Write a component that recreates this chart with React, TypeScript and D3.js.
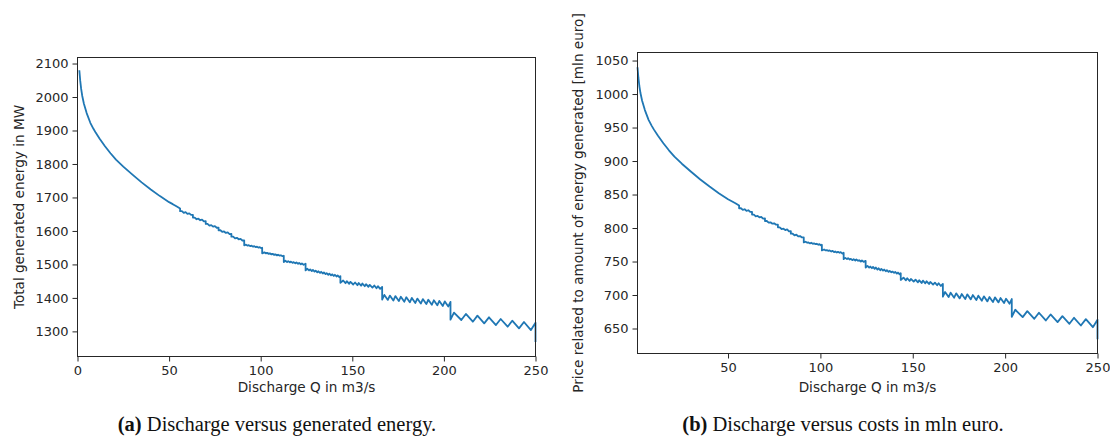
import React, { useEffect, useRef } from "react";
import * as d3 from "d3";

// Discharge Q (m3/s) at each vertex of the curve
const discharge = [
  1, 1.5, 2, 2.6, 3.5, 5, 7, 8.7, 10, 12, 15, 18, 21, 25, 30, 35, 40, 45, 50,
  52, 54, 56, 56,
  57, 58, 59, 60, 61, 62, 63, 63,
  64, 65, 66, 67, 68, 69, 70, 70,
  71, 72, 73, 74, 75, 76, 77, 77,
  78, 79, 80, 81, 82, 83, 84, 84,
  85, 86, 87, 88, 89, 90, 91, 91,
  92, 92.9, 93.5, 94.4, 95, 95.9, 96.5, 97.4, 98, 98.9, 99.5, 100.4, 100.8, 100.8,
  102, 102.9, 103.5, 104.4, 105, 105.9, 106.5, 107.4, 108, 108.9, 109.5, 110.4, 111, 111.9, 112.6, 112.6,
  113.5, 114.4, 115, 115.9, 116.5, 117.4, 118, 118.9, 119.5, 120.4, 121, 121.9, 122.5, 123.4, 124.5, 124.5,
  125.5, 126.4, 127, 127.9, 128.5, 129.4, 130, 130.9, 131.5, 132.4, 133, 133.9, 134.5, 135.4, 136, 136.9,
  137.5, 138.4, 139, 139.9, 140.5, 141.4, 142, 142.9, 143.5, 143.5,
  145, 146.3, 147, 148.3, 149, 150.5, 151.5, 152.8, 153.5, 154.8, 155.5, 156.8, 157.5, 158.8, 159.5, 161,
  162, 163.2, 164, 165.2, 166.3, 166.3,
  167.5, 169.4, 170.5, 172.4, 173.5, 175.4, 176.5, 178.4, 179.5, 181.4, 182.5, 184.4, 185.5, 187.4, 188.5,
  190.4, 191.5, 193.4, 194.5, 196.4, 197.5, 199.4, 200.5, 202.4, 203.6, 203.6,
  205.5, 209.5, 212, 215.8, 218.3, 222, 224.6, 228.4, 231, 234.8, 237.3, 241, 243.7, 247.5, 250, 250,
];

// (a) total generated energy in MW
const energyMW = [
  2080, 2048, 2024, 2003, 1980, 1952, 1923, 1905, 1893, 1876, 1853, 1832, 1813, 1792, 1768, 1745, 1724, 1704, 1686,
  1680, 1673.5, 1667, 1659,
  1659, 1654, 1656, 1651, 1652.5, 1648, 1648, 1640,
  1640, 1635, 1636.5, 1632, 1633.5, 1628.5, 1629, 1621,
  1621, 1616, 1617.5, 1613, 1614.5, 1609.5, 1610, 1602,
  1602, 1597, 1598.5, 1594, 1595.5, 1590.5, 1591, 1583,
  1583, 1578, 1579.5, 1575, 1576.5, 1571.5, 1572, 1557,
  1559, 1556, 1557.5, 1554.5, 1556, 1553, 1554.5, 1551.5, 1553, 1550, 1551.5, 1548.5, 1550, 1533,
  1536, 1533, 1534.5, 1531.5, 1533, 1530, 1531.5, 1528.5, 1530, 1527, 1529, 1526, 1527.5, 1524.5, 1526, 1507,
  1511, 1507, 1510, 1506, 1508.5, 1504.5, 1507, 1503, 1506, 1502, 1504.5, 1500.5, 1503, 1499, 1502, 1482,
  1487, 1482, 1485, 1480, 1483.5, 1478.5, 1481.5, 1476.5, 1479.5, 1474.5, 1478, 1473, 1476, 1471, 1474, 1469,
  1472.5, 1467.5, 1470.5, 1465.5, 1469, 1464, 1467, 1462, 1465, 1445,
  1452, 1444, 1450, 1442, 1448, 1440, 1446, 1438, 1444.5, 1436.5, 1443, 1435, 1441, 1433, 1439, 1431,
  1437, 1429, 1435, 1427, 1433, 1395,
  1409, 1394, 1407, 1392, 1405.5, 1390.5, 1403.5, 1388.5, 1402, 1387, 1400, 1385, 1398, 1383, 1396.5,
  1381.5, 1394.5, 1379.5, 1393, 1378, 1391, 1376, 1389.5, 1374.5, 1388, 1335,
  1356, 1334, 1352, 1329, 1347, 1324, 1342, 1319, 1337, 1314, 1332, 1309, 1328, 1304, 1326, 1268,
];

// (b) price related to amount of energy generated, mln euro
const priceMlnEuro = [
  1040, 1024, 1012, 1001.5, 990, 976, 961.5, 952.5, 946.5, 938, 926.5, 916, 906.5, 896, 884, 872.5, 862, 852, 843,
  840, 837, 833.5, 829.5,
  829.5, 827, 828, 825.5, 826.5, 824, 824, 820,
  820, 817.5, 818, 816, 816.5, 814, 814.5, 810.5,
  810.5, 808, 808.5, 806.5, 807, 805, 805, 801,
  801, 798.5, 799, 797, 798, 795, 795.5, 791.5,
  791.5, 789, 790, 787.5, 788, 786, 786, 778.5,
  779.5, 778, 778.5, 777, 778, 776.5, 777, 776, 776.5, 775, 776, 774, 775, 766.5,
  768, 766.5, 767, 766, 766.5, 765, 766, 764, 765, 763.5, 764.5, 763, 764, 762, 763, 753.5,
  755.5, 753.5, 755, 753, 754, 752, 753.5, 751.5, 753, 751, 752, 750, 751.5, 749.5, 751, 741,
  743.5, 741, 742.5, 740, 742, 739, 741, 738, 740, 737, 739, 736.5, 738, 735.5, 737, 734.5,
  736, 734, 735, 733, 734.5, 732, 733.5, 731, 732.5, 722.5,
  726, 722, 725, 721, 724, 720, 723, 719, 722, 718, 721.5, 717.5, 720.5, 716.5, 719.5, 715.5,
  718.5, 714.5, 717.5, 713.5, 716.5, 697.5,
  704.5, 697, 703.5, 696, 702.5, 695, 701.5, 694, 701, 693.5, 700, 692.5, 699, 691.5, 698,
  690.5, 697, 689.5, 696.5, 689, 695.5, 688, 694.5, 687, 694, 667.5,
  678, 667, 676, 664.5, 673.5, 662, 671, 659.5, 668.5, 657, 666, 654.5, 664, 652, 663, 634,
];

const xTicksA = [0, 50, 100, 150, 200, 250];
const yTicksA = [1300, 1400, 1500, 1600, 1700, 1800, 1900, 2000, 2100];
const xTicksB = [50, 100, 150, 200, 250];
const yTicksB = [650, 700, 750, 800, 850, 900, 950, 1000, 1050];

const FONT = "DejaVu Sans, sans-serif";
const INK = "#262626";

type PanelProps = {
  values: number[];
  xDomain: [number, number];
  yDomain: [number, number];
  xTicks: number[];
  yTicks: number[];
  box: { left: number; right: number; top: number; bottom: number };
  yLabel: string;
  yLabelX: number;
};

const Panel = ({ values, xDomain, yDomain, xTicks, yTicks, box, yLabel, yLabelX }: PanelProps) => {
  const gRef = useRef<SVGGElement>(null);

  useEffect(() => {
    const g = d3.select(gRef.current);
    g.selectAll("*").remove();

    const x = d3.scaleLinear().domain(xDomain).range([box.left, box.right]);
    const y = d3.scaleLinear().domain(yDomain).range([box.bottom, box.top]);
    const pts = discharge.map((q, i) => [q, values[i]] as [number, number]);

    const line = d3
      .line<[number, number]>()
      .x((d) => x(d[0]))
      .y((d) => y(d[1]));

    g.append("path")
      .datum(pts)
      .attr("fill", "none")
      .attr("stroke", "#1f77b4")
      .attr("stroke-width", 1.8)
      .attr("stroke-linejoin", "round")
      .attr("d", line);

    // x axis
    g.append("g")
      .attr("transform", `translate(0,${box.bottom})`)
      .call(d3.axisBottom(x).tickValues(xTicks).tickSize(5).tickPadding(4).tickFormat(d3.format("d")))
      .call((a) => a.select(".domain").remove())
      .call((a) => a.selectAll(".tick line").attr("stroke", INK))
      .call((a) =>
        a.selectAll("text").attr("fill", INK).attr("font-size", 13).attr("font-family", FONT)
      );

    // y axis
    g.append("g")
      .attr("transform", `translate(${box.left},0)`)
      .call(d3.axisLeft(y).tickValues(yTicks).tickSize(5).tickPadding(4).tickFormat(d3.format("d")))
      .call((a) => a.select(".domain").remove())
      .call((a) => a.selectAll(".tick line").attr("stroke", INK))
      .call((a) =>
        a.selectAll("text").attr("fill", INK).attr("font-size", 13).attr("font-family", FONT)
      );

    // spines
    g.append("rect")
      .attr("x", box.left)
      .attr("y", box.top)
      .attr("width", box.right - box.left)
      .attr("height", box.bottom - box.top)
      .attr("fill", "none")
      .attr("stroke", INK)
      .attr("stroke-width", 1);

    g.append("text")
      .attr("x", (box.left + box.right) / 2)
      .attr("y", 387)
      .attr("dy", "0.35em")
      .attr("text-anchor", "middle")
      .attr("font-family", FONT)
      .attr("font-size", 13.6)
      .attr("fill", INK)
      .text("Discharge Q in m3/s");

    g.append("text")
      .attr("transform", `translate(${yLabelX},${(box.top + box.bottom) / 2}) rotate(-90)`)
      .attr("dy", "0.35em")
      .attr("text-anchor", "middle")
      .attr("font-family", FONT)
      .attr("font-size", 13.6)
      .attr("fill", INK)
      .text(yLabel);
  }, [values]);

  return <g ref={gRef} />;
};

export default function App() {
  return (
    <div style={{ position: "absolute", left: 0, top: 0, background: "#fff" }}>
      <svg width={1110} height={442} style={{ display: "block" }}>
        <rect width={1110} height={442} fill="#fff" />
        <Panel
          values={energyMW}
          xDomain={[0, 250]}
          yDomain={[1225, 2118]}
          xTicks={xTicksA}
          yTicks={yTicksA}
          box={{ left: 77.5, right: 535.5, top: 57.5, bottom: 356.5 }}
          yLabel="Total generated energy in MW"
          yLabelX={19}
        />
        <Panel
          values={priceMlnEuro}
          xDomain={[1, 250]}
          yDomain={[612.7, 1062]}
          xTicks={xTicksB}
          yTicks={yTicksB}
          box={{ left: 637.5, right: 1097.5, top: 52.5, bottom: 353.5 }}
          yLabel="Price related to amount of energy generated [mln euro]"
          yLabelX={578}
        />
        <g fontFamily="Liberation Serif, serif" fontSize={20.5} fill="#111">
          <text x={277} y={431} textAnchor="middle">
            <tspan fontWeight="bold">(a)</tspan> Discharge versus generated energy.
          </text>
          <text x={843} y={431} textAnchor="middle">
            <tspan fontWeight="bold">(b)</tspan> Discharge versus costs in mln euro.
          </text>
        </g>
      </svg>
    </div>
  );
}
